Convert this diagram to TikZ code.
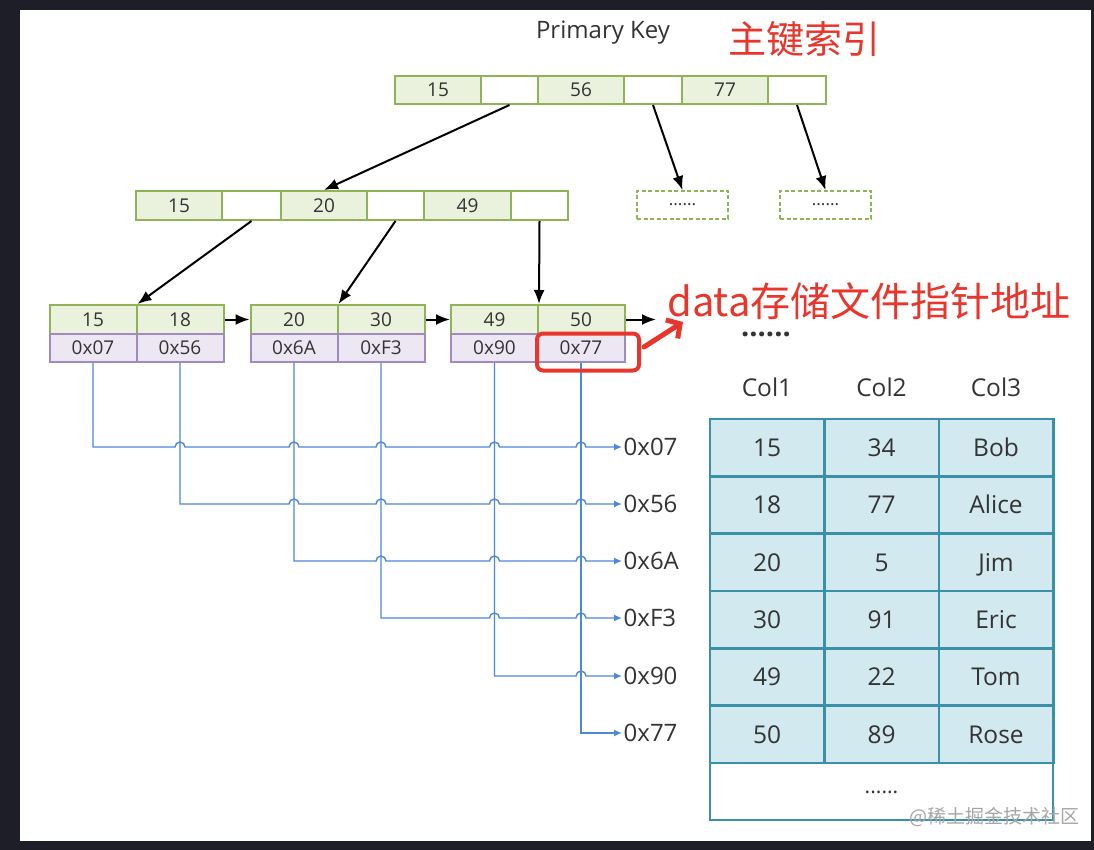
\documentclass[tikz,border=0pt]{standalone}
\usepackage{fontspec}
\setmainfont{Open Sans}
\newfontfamily\cjk{Noto Sans CJK SC}
\usetikzlibrary{arrows.meta,calc}
\definecolor{gbd}{HTML}{8FB356}
\definecolor{gfl}{HTML}{EAF1DD}
\definecolor{pbd}{HTML}{A08AC2}
\definecolor{pfl}{HTML}{ECE7F3}
\definecolor{bline}{HTML}{4C87D8}
\definecolor{tbd}{HTML}{3A90A8}
\definecolor{tfl}{HTML}{D3E9F0}
\definecolor{rd}{HTML}{E8362C}
\definecolor{tx}{HTML}{333333}
\definecolor{bgd}{HTML}{1E1E28}
\newcommand\fs[1]{\fontsize{#1}{#1}\selectfont}
\begin{document}
\begin{tikzpicture}[x=1pt,y=-1pt,
  cellbase/.style={rectangle, inner sep=0pt, line width=2pt, text=tx, font=\fs{19}, text height=13.5pt, text depth=0pt},
  gcell/.style={cellbase, draw=gbd, fill=gfl, minimum height=28pt, minimum width=86pt},
  wcell/.style={cellbase, draw=gbd, fill=white, minimum height=28pt, minimum width=58pt},
  pcell/.style={cellbase, draw=pbd, fill=pfl, minimum height=28pt, minimum width=87pt},
  lcell/.style={cellbase, draw=gbd, fill=gfl, minimum height=29pt, minimum width=87pt},
  dbox/.style={rectangle, draw=gbd, line width=1.8pt, dash pattern=on 4pt off 2.5pt, minimum width=91pt, minimum height=28pt, inner sep=0pt, font=\fs{17}, text=tx},
  arr/.style={line width=2pt, -{Latex[length=14pt,width=11pt]}},
  bl/.style={bline, line width=1.4pt, -{Latex[length=8pt,width=7pt]}},
  addr/.style={anchor=west, inner xsep=1.5pt, font=\fs{24}, text=tx, text height=17pt, text depth=0pt},
  tcell/.style={rectangle, draw=tbd, fill=tfl, line width=2.5pt, minimum width=114.5pt, minimum height=57.4pt, inner sep=0pt, font=\fs{24.5}, text=tx, text height=17.5pt, text depth=0pt},
  hdr/.style={font=\fs{24.5}, text=tx, text height=17.5pt, text depth=0pt, inner sep=0pt}
]
\useasboundingbox (0,0) rectangle (1094,850);
\fill[bgd] (0,0) rectangle (1094,850);
\fill[white] (20,10) rectangle (1091,841);

% titles
\node[anchor=base, font=\fs{24}, text=tx, inner sep=0pt] (pk) at (603,39) {Primary Key};
\node[anchor=base west, font=\cjk\fs{38}, text=rd, inner sep=0pt] (zj) at (728,54) {主键索引};

% root node
\node[gcell] (r1) at (438,90) {15};
\node[wcell, minimum width=57pt] (r2) at (509.5,90) {};
\node[gcell] (r3) at (581,90) {56};
\node[wcell] (r4) at (653,90) {};
\node[gcell] (r5) at (725,90) {77};
\node[wcell] (r6) at (797,90) {};

% level 2
\node[gcell, minimum height=29pt] (m1) at (179,205.5) {15};
\node[wcell, minimum height=29pt, minimum width=59pt] (m2) at (251.5,205.5) {};
\node[gcell, minimum height=29pt] (m3) at (324,205.5) {20};
\node[wcell, minimum height=29pt, minimum width=57pt] (m4) at (395.5,205.5) {};
\node[gcell, minimum height=29pt, minimum width=87pt] (m5) at (467.5,205.5) {49};
\node[wcell, minimum height=29pt, minimum width=57pt] (m6) at (539.5,205.5) {};

\node[dbox] (d1) at (682.5,205) {......};
\node[dbox] (d2) at (825.5,205) {......};

% leaves
\node[lcell] (k1) at (93,319.5) {15};
\node[lcell] (k2) at (180,319.5) {18};
\node[lcell] (k3) at (294,319.5) {20};
\node[lcell] (k4) at (381,319.5) {30};
\node[lcell] (k5) at (494.5,319.5) {49};
\node[lcell] (k6) at (581,319.5) {50};
\node[pcell] (p1) at (93,348) {0x07};
\node[pcell] (p2) at (180,348) {0x56};
\node[pcell] (p3) at (294,348) {0x6A};
\node[pcell] (p4) at (381,348) {0xF3};
\node[pcell] (p5) at (494.5,348) {0x90};
\node[pcell] (p6) at (581,348) {0x77};

% tree arrows
\draw[arr] (r2.south) -- (m3.north);
\draw[arr] (r4.south) -- (d1.north);
\draw[arr] (r6.south) -- (d2.north);
\draw[arr] (m2.south) -- (k1.north east);
\draw[arr] (m4.south) -- (k3.north east);
\draw[arr] (m6.south) -- (k5.north east);
\draw[arr] (k2.east) -- (k3.west);
\draw[arr] (k4.east) -- (k5.west);
\coordinate (nx) at (656,319.5);
\draw[arr] (k6.east) -- (nx);
\node[anchor=base, font=\bfseries\fs{29}, text=tx, inner sep=0pt, text height=4pt] (more) at (766,336) {......};

% address labels
\node[addr] (a1) at (622,447) {0x07};
\node[addr] (a2) at (622,504) {0x56};
\node[addr] (a3) at (622,561) {0x6A};
\node[addr] (a4) at (622,618) {0xF3};
\node[addr] (a5) at (622,676) {0x90};
\node[addr] (a6) at (622,733) {0x77};

% blue pointer lines with hops
\foreach \i/\js in {1/{2,3,4,5,6},2/{3,4,5,6},3/{4,5,6},4/{5,6},5/{6}}{
  \draw[bl] (p\i.south) -- (p\i.south |- a\i.west)
    \foreach \j in \js { -- ($(p\j.south |- a\i.west)+(-5,0)$) arc[start angle=180,end angle=0,radius=5pt] }
    -- (a\i.west);
}
\draw[bl] (p6.south) -- (p6.south |- a6.west) -- (a6.west);

% red highlight
\node[draw=rd, line width=4pt, rounded corners=6pt, minimum width=102pt, minimum height=37pt, inner sep=0pt] (rb) at (588,352) {};
\coordinate (rt) at (683,322);
\draw[rd, line width=5pt, line cap=round, line join=round, -{Straight Barb[length=10pt,width=22pt]}] ($(rb.east)+(3,-5)$) -- (rt);
\node[anchor=base west, font=\cjk\fs{40}, text=rd, inner sep=0pt] (dt) at (667,316) {data存储文件指针地址};

% table
\node[hdr] (h1) at (767,388) {Col1};
\node[hdr] (h2) at (881.5,388) {Col2};
\node[hdr] (h3) at (996,388) {Col3};
\foreach \r/\a/\b/\c in {1/15/34/Bob,2/18/77/Alice,3/20/5/Jim,4/30/91/Eric,5/49/22/Tom,6/50/89/Rose}{
  \pgfmathsetmacro\yy{419+57.33*(\r-0.5)}
  \node[tcell] (t\r a) at (767,\yy) {\a};
  \node[tcell] (t\r b) at (881.5,\yy) {\b};
  \node[tcell] (t\r c) at (996,\yy) {\c};
}
\node[tcell, fill=white, minimum width=343pt, minimum height=57pt, font=\fs{21}, text height=4pt] (t7) at (881.5,791.5) {......};

% watermark
\node[anchor=base west, font=\cjk\fs{19}, text=black!35, inner sep=0pt] (wm) at (909,823) {@稀土掘金技术社区};
\end{tikzpicture}
\end{document}
